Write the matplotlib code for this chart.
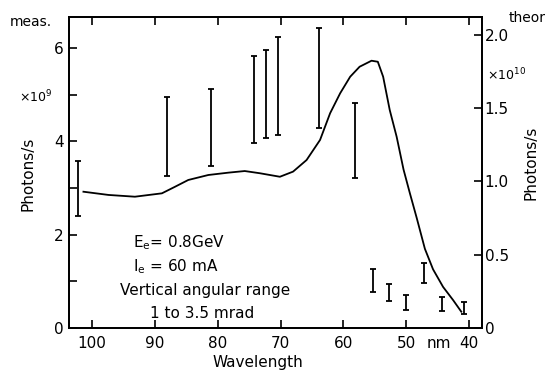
import numpy as np
import matplotlib
matplotlib.use("Agg")
import matplotlib.pyplot as plt

# measured photon flux (left axis, units of 1e9 photons/s): wavelength, lower, upper
meas_wl = [102.2, 88.1, 81.1, 74.3, 72.3, 70.4, 63.9, 58.2,
           55.2, 52.7, 50.0, 47.2, 44.2, 40.8]
meas_lo = [2.41, 3.27, 3.48, 3.96, 4.08, 4.14, 4.30, 3.21,
           0.78, 0.58, 0.39, 0.97, 0.37, 0.29]
meas_hi = [3.59, 4.96, 5.12, 5.84, 5.96, 6.25, 6.43, 4.82,
           1.26, 0.94, 0.71, 1.40, 0.67, 0.56]

# theoretical curve (right axis, units of 1e10 photons/s)
theo_wl = [101.4, 97.4, 93.2, 88.9, 86.8, 84.7, 81.5, 78.3, 75.7, 73.3,
           70.1, 68.0, 65.85, 63.7, 62.1, 60.5, 58.9, 57.4, 55.5, 54.5,
           53.65, 52.6, 51.5, 50.4, 49.4, 48.3, 47.0, 45.7, 44.1, 42.5, 41.2]
theo_val = [0.929, 0.907, 0.895, 0.918, 0.963, 1.009, 1.043, 1.059, 1.070, 1.055,
            1.031, 1.066, 1.145, 1.282, 1.464, 1.600, 1.713, 1.781, 1.822, 1.815,
            1.713, 1.486, 1.304, 1.08, 0.92, 0.75, 0.54, 0.40, 0.28, 0.19, 0.111]

x_ticks = [100, 90, 80, 70, 60, 50, 40]
left_ticks = [0, 1, 2, 3, 4, 5, 6]
left_labels = ['0', '', '2', '', '4', '', '6']
right_ticks = [0, 0.5, 1.0, 1.5, 2.0]
right_labels = ['0', '0.5', '1.0', '1.5', '2.0']

W, H = 556, 372
fig = plt.figure(figsize=(W / 100, H / 100), dpi=100)
ax = fig.add_axes([69 / W, 1 - 328 / H, (482 - 69) / W, (328 - 17) / H])
ax2 = ax.twinx()

lo = np.array(meas_lo)
hi = np.array(meas_hi)
mid = (lo + hi) / 2
ax.errorbar(meas_wl, mid, yerr=(hi - lo) / 2, fmt='none', ecolor='black',
            elinewidth=1.3, capsize=2.2, capthick=1.3)
ax2.plot(theo_wl, theo_val, color='black', lw=1.3)

ax.set_xlim(103.7, 37.9)
ax.set_ylim(0, 6.67)
ax2.set_ylim(0, 2.12)

ax.set_xticks(x_ticks)
ax.set_xticklabels([str(v) for v in x_ticks])
ax.set_yticks(left_ticks)
ax.set_yticklabels(left_labels)
ax2.set_yticks(right_ticks)
ax2.set_yticklabels(right_labels)

ax.tick_params(axis='x', direction='in', length=6, width=1.2, labelsize=11,
               pad=6, top=True)
ax.tick_params(axis='y', direction='in', length=6, width=1.2, labelsize=11, pad=4)
ax2.tick_params(axis='y', direction='in', length=6, width=1.2, labelsize=11, pad=2)
for a in (ax, ax2):
    for s in a.spines.values():
        s.set_linewidth(1.3)

def ftxt(x, y, s, **kw):
    fig.text(x / W, 1 - y / H, s, va='center', **kw)

ftxt(10, 22, 'meas.', fontsize=10, ha='left')
ftxt(509, 18, 'theor', fontsize=10, ha='left')
ftxt(36, 97, r'$\times10^{9}$', fontsize=9, ha='center')
ftxt(507, 75, r'$\times10^{10}$', fontsize=9, ha='center')
ftxt(28, 174, 'Photons/s', fontsize=11, ha='center', rotation=90)
ftxt(531, 163, 'Photons/s', fontsize=11, ha='center', rotation=90)
ftxt(258, 363, 'Wavelength', fontsize=11, ha='center')
ftxt(439, 343, 'nm', fontsize=11, ha='center')

ftxt(133, 243, r'E$_\mathregular{e}$= 0.8GeV', fontsize=11, ha='left')
ftxt(133, 267, r'I$_\mathregular{e}$ = 60 mA', fontsize=11, ha='left')
ftxt(205, 290, 'Vertical angular range', fontsize=11, ha='center')
ftxt(202, 313, '1 to 3.5 mrad', fontsize=11, ha='center')

fig.savefig('out.png', dpi=100)
